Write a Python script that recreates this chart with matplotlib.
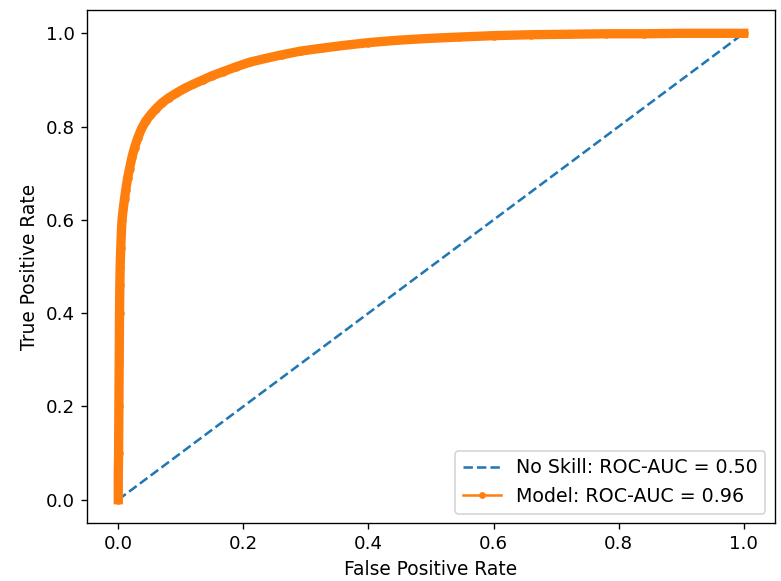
import matplotlib
matplotlib.use("Agg")
import matplotlib.pyplot as plt

# No-skill reference line
ns_fpr = [0.0, 1.0]
ns_tpr = [0.0, 1.0]

# Model ROC curve
model_fpr = [0.0, 0.0, 0.0005, 0.001, 0.0015, 0.002, 0.0025, 0.003, 0.004, 0.005,
             0.006, 0.008, 0.010, 0.012, 0.015, 0.018, 0.022, 0.026, 0.031, 0.037,
             0.044, 0.052, 0.060, 0.070, 0.081, 0.093, 0.106, 0.120, 0.135, 0.150,
             0.168, 0.188, 0.210, 0.235, 0.262, 0.292, 0.325, 0.360, 0.400, 0.445,
             0.495, 0.545, 0.600, 0.660, 0.720, 0.780, 0.840, 0.900, 0.950, 1.0]
model_tpr = [0.0, 0.05, 0.10, 0.20, 0.30, 0.40, 0.46, 0.50, 0.54, 0.575,
             0.60, 0.625, 0.645, 0.665, 0.69, 0.71, 0.735, 0.755, 0.775, 0.795,
             0.812, 0.826, 0.838, 0.851, 0.862, 0.872, 0.882, 0.891, 0.900, 0.909,
             0.918, 0.928, 0.938, 0.946, 0.954, 0.962, 0.968, 0.974, 0.980, 0.985,
             0.989, 0.992, 0.995, 0.997, 0.998, 0.999, 0.999, 1.0, 1.0, 1.0]

ns_label = "No Skill: ROC-AUC = 0.50"
model_label = "Model: ROC-AUC = 0.96"

plt.rcParams["font.size"] = 10.8

fig = plt.figure(figsize=(781 / 122, 581 / 122), dpi=122)
ax = fig.add_axes([0.1114, 0.0998, 0.9923 - 0.1114, 0.9828 - 0.0998])

ax.plot(ns_fpr, ns_tpr, linestyle="--", label=ns_label)
ax.plot(model_fpr, model_tpr, marker=".", label=model_label, linewidth=5.5, markersize=8)

ax.set_xlabel("False Positive Rate", fontsize=11)
ax.set_ylabel("True Positive Rate", fontsize=11)
leg = ax.legend(loc="lower right", fontsize=11.2)
for h in leg.legend_handles:
    h.set_linewidth(1.5)
    h.set_markersize(6)

fig.savefig("out.png", dpi=122)
